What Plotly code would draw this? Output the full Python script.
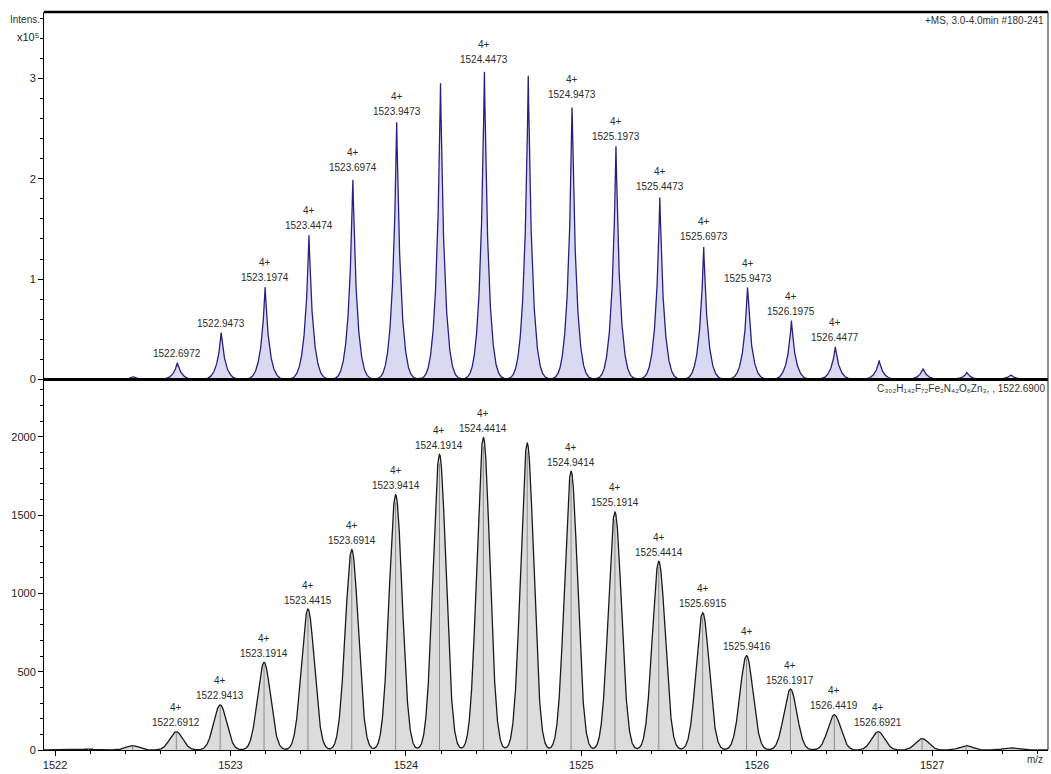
import numpy as np
import plotly.graph_objects as go

# ---- measured spectrum (+MS, 3.0-4.0 min, scans 180-241) ----
meas_mz = [1522.1972, 1522.4472, 1522.6972, 1522.9473, 1523.1974, 1523.4474,
           1523.6974, 1523.9473, 1524.1973, 1524.4473, 1524.6973, 1524.9473,
           1525.1973, 1525.4473, 1525.6973, 1525.9473, 1526.1975, 1526.4477,
           1526.6977, 1526.9477, 1527.1977, 1527.4477]
meas_int = [1000, 3000, 17000, 47000, 93000, 144000,
            202000, 258000, 297000, 310000, 303000, 275000,
            233000, 183000, 133000, 92000, 59000, 33000,
            19000, 11000, 7000, 5000]
meas_label = ["", "", "1522.6972", "1522.9473", "1523.1974", "1523.4474",
              "1523.6974", "1523.9473", "", "1524.4473", "", "1524.9473",
              "1525.1973", "1525.4473", "1525.6973", "1525.9473", "1526.1975", "1526.4477",
              "", "", "", ""]
meas_charge = ["", "", "", "", "4+", "4+",
               "4+", "4+", "", "4+", "", "4+",
               "4+", "4+", "4+", "4+", "4+", "4+",
               "", "", "", ""]

# ---- simulated isotope pattern ----
sim_mz = [1522.1912, 1522.4412, 1522.6912, 1522.9413, 1523.1914, 1523.4415,
          1523.6914, 1523.9414, 1524.1914, 1524.4414, 1524.6914, 1524.9414,
          1525.1914, 1525.4414, 1525.6915, 1525.9416, 1526.1917, 1526.4419,
          1526.6921, 1526.9423, 1527.1925, 1527.4427]
sim_int = [6, 28, 117, 288, 560, 900,
           1280, 1630, 1888, 1997, 1960, 1780,
           1520, 1205, 877, 603, 389, 225,
           117, 73, 28, 14]
sim_label = ["", "", "1522.6912", "1522.9413", "1523.1914", "1523.4415",
             "1523.6914", "1523.9414", "1524.1914", "1524.4414", "", "1524.9414",
             "1525.1914", "1525.4414", "1525.6915", "1525.9416", "1526.1917", "1526.4419",
             "1526.6921", "", "", ""]
sim_charge = ["" if s == "" else "4+" for s in sim_label]

x_ticks = [1522, 1523, 1524, 1525, 1526, 1527]
top_ticks = [0, 1, 2, 3]
bottom_ticks = [0, 500, 1000, 1500, 2000]

X_RANGE = [1521.937, 1527.66]
TOP_MAX = 3.66e5
BOTTOM_MAX = 2366
SPLIT = 0.502

# profile grid; peaks rendered with instrument-like line shapes
grid = np.linspace(X_RANGE[0], X_RANGE[1], 8000)


def measured_profile(x, centers, heights):
    y = np.zeros_like(x)
    for c, h in zip(centers, heights):
        d = x - c
        y += h * (0.84 * np.exp(-np.abs(d) / 0.019) + 0.16 * np.exp(-d ** 2 / (2 * 0.034 ** 2)))
    return y


def simulated_profile(x, centers, heights):
    y = np.zeros_like(x)
    for c, h in zip(centers, heights):
        y += h * np.exp(-(x - c) ** 2 / (2 * 0.037 ** 2))
    return y


top_y = measured_profile(grid, meas_mz, meas_int)
bot_y = simulated_profile(grid, sim_mz, sim_int)

fig = go.Figure()

fig.add_trace(go.Scatter(
    x=grid, y=top_y, mode="lines", fill="tozeroy",
    line=dict(color="#2a1f80", width=1.3),
    fillcolor="#d9d9f2", xaxis="x", yaxis="y", hoverinfo="skip"))

fig.add_trace(go.Scatter(
    x=grid, y=bot_y, mode="lines", fill="tozeroy",
    line=dict(color="#1a1a1a", width=1.3),
    fillcolor="#dcdcdc", xaxis="x", yaxis="y2", hoverinfo="skip"))

# centroid sticks of the simulated pattern
stick_x, stick_y = [], []
for c, h in zip(sim_mz, sim_int):
    stick_x += [c, c, None]
    stick_y += [0, h * 0.97, None]
fig.add_trace(go.Scatter(
    x=stick_x, y=stick_y, mode="lines",
    line=dict(color="#8a8a8a", width=1),
    xaxis="x", yaxis="y2", hoverinfo="skip"))

LABEL_FONT = dict(family="Liberation Sans, Arial, sans-serif", size=10, color="#2b2b2b")
annotations = []


def add_peak_labels(mzs, heights, labels, charges, yref):
    for m, h, lab, ch in zip(mzs, heights, labels, charges):
        if lab:
            annotations.append(dict(x=m, y=h, xref="x", yref=yref, text=lab,
                                    showarrow=False, yanchor="middle", yshift=9,
                                    font=LABEL_FONT))
        if ch:
            annotations.append(dict(x=m, y=h, xref="x", yref=yref, text=ch,
                                    showarrow=False, yanchor="middle", yshift=24,
                                    font=LABEL_FONT))


add_peak_labels(meas_mz, meas_int, meas_label, meas_charge, "y")
add_peak_labels(sim_mz, sim_int, sim_label, sim_charge, "y2")

AX_FONT = dict(family="Liberation Sans, Arial, sans-serif", size=11, color="#222222")
SMALL = dict(family="Liberation Sans, Arial, sans-serif", size=10, color="#333333")

annotations += [
    dict(x=0, y=1, xref="paper", yref="paper", text="Intens.", showarrow=False,
         xanchor="right", yanchor="middle", xshift=-2, yshift=-7, font=SMALL),
    dict(x=0, y=1, xref="paper", yref="paper", text="x10\u2075", showarrow=False,
         xanchor="right", yanchor="middle", xshift=-3, yshift=-25, font=AX_FONT),
    dict(x=1, y=1, xref="paper", yref="paper", text="+MS, 3.0-4.0min #180-241",
         showarrow=False, xanchor="right", yanchor="middle", xshift=-2, yshift=-8,
         font=SMALL),
    dict(x=1, y=SPLIT, xref="paper", yref="paper",
         text="C\u2083\u2080\u2082H\u2081\u2084\u2082F\u2087\u2082Fe\u2082N\u2084\u2082"
              "O\u2086Zn\u2083, , 1522.6900",
         showarrow=False, xanchor="right", yanchor="middle", xshift=-1, yshift=-9,
         font=SMALL),
    dict(x=1, y=0, xref="paper", yref="paper", text="m/z", showarrow=False,
         xanchor="center", yanchor="middle", xshift=-13, yshift=-9, font=SMALL),
]

shapes = [
    # frame top edge and separator between panels
    dict(type="line", xref="paper", yref="paper", x0=0, x1=1, y0=1, y1=1,
         line=dict(color="black", width=2.5)),
    dict(type="line", xref="paper", yref="paper", x0=0, x1=1, y0=SPLIT, y1=SPLIT,
         line=dict(color="black", width=3)),
    dict(type="line", xref="paper", yref="paper", x0=1, x1=1, y0=0, y1=1,
         line=dict(color="#222222", width=1)),
]

fig.update_layout(
    width=1051, height=774,
    margin=dict(l=44, r=3, t=12, b=17),
    paper_bgcolor="white", plot_bgcolor="white",
    showlegend=False,
    annotations=annotations,
    shapes=shapes,
    xaxis=dict(domain=[0, 1], anchor="y2", range=X_RANGE,
               tickvals=x_ticks, ticktext=[str(v) for v in x_ticks],
               ticks="outside", ticklen=5, tickcolor="black",
               minor=dict(dtick=0.2, tick0=1522, ticks="outside", ticklen=3, tickcolor="black"),
               showline=True, linecolor="black", linewidth=1,
               showgrid=False, zeroline=False, tickfont=AX_FONT),
    yaxis=dict(domain=[SPLIT, 1], anchor="x", range=[0, TOP_MAX],
               tickvals=[v * 1e5 for v in top_ticks], ticktext=[str(v) for v in top_ticks],
               ticks="outside", ticklen=5, tickcolor="black",
               minor=dict(dtick=2e4, tick0=0, ticks="outside", ticklen=3, tickcolor="black"),
               showline=True, linecolor="black", linewidth=1,
               showgrid=False, zeroline=False, tickfont=AX_FONT),
    yaxis2=dict(domain=[0, SPLIT], anchor="x", range=[0, BOTTOM_MAX],
                tickvals=bottom_ticks, ticktext=[str(v) for v in bottom_ticks],
                ticks="outside", ticklen=5, tickcolor="black",
                minor=dict(dtick=100, tick0=0, ticks="outside", ticklen=3, tickcolor="black"),
                showline=True, linecolor="black", linewidth=1,
                showgrid=False, zeroline=False, tickfont=AX_FONT),
)

fig.write_html("out.html")
